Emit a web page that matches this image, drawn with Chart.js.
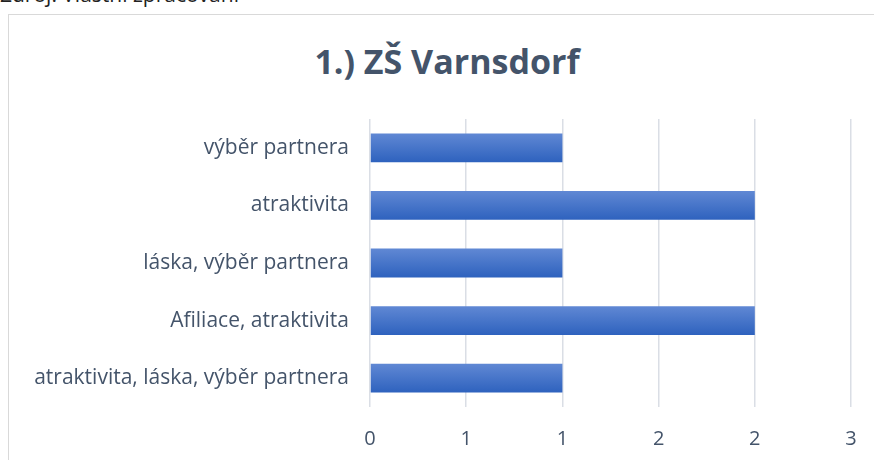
<!DOCTYPE html>
<html>
<head>
<meta charset="utf-8">
<script src="https://cdn.jsdelivr.net/npm/chart.js@4/dist/chart.umd.min.js"></script>
<style>
    html, body { margin: 0; padding: 0; background: #fff; overflow: hidden; }
    .source { position: absolute; left: 0; top: -20px; font: 21px "Open Sans", sans-serif; color: #222; white-space: nowrap; }
    .frame { position: absolute; left: 8px; top: 14px; width: 900px; height: 500px; border: 1px solid #d9d9d9; }
    .chartTitle { position: absolute; left: 0; top: 44px; width: 894px; text-align: center; font: bold 34px/1 "Open Sans", sans-serif; color: #44546A; }
    .chartContainer { position: absolute; left: 0; top: 0; width: 874px; height: 460px; }
</style>
</head>
<body>
<div class="source">Zdroj: Vlastní zpracování</div>
<div class="frame"></div>
<div class="chartTitle" id="title"></div>
<div class="chartContainer"><canvas id="chart"></canvas></div>
<script>
const categories = ["výběr partnera", "atraktivita", "láska, výběr partnera", "Afiliace, atraktivita", "atraktivita, láska, výběr partnera"];
const counts = [1, 2, 1, 2, 1];
const tickLabels = ["0", "1", "1", "2", "2", "3"];
const title = "1.) ZŠ Varnsdorf";

const textColor = "#44546A";

// title sits off-centre in the original, so it is placed as html above the canvas
document.getElementById("title").textContent = title;

const barFill = (ctx) => {
    const chart = ctx.chart;
    const yScale = chart.scales.y;
    if (!yScale || ctx.type !== "data" || !yScale.height) {
        return "#4472C4";
    }
    const center = yScale.getPixelForValue(ctx.dataIndex);
    const half = (yScale.height / categories.length) * 0.5 / 2;
    if (!isFinite(center) || !isFinite(half)) {
        return "#4472C4";
    }
    const grad = chart.ctx.createLinearGradient(0, center - half, 0, center + half);
    grad.addColorStop(0, "#6088D4");
    grad.addColorStop(1, "#2E62BE");
    return grad;
};

const chartCanvas = document.getElementById("chart").getContext("2d");
new Chart(chartCanvas, {
    type: "bar",
    data: {
        labels: categories,
        datasets: [{
            data: counts,
            backgroundColor: barFill,
            borderWidth: 0,
            barPercentage: 0.5,
            categoryPercentage: 1,
        }],
    },
    options: {
        indexAxis: "y",
        responsive: true,
        maintainAspectRatio: false,
        animation: false,
        layout: {padding: {left: 0, right: 23, top: 119, bottom: 0}},
        plugins: {
            legend: {display: false},
            tooltip: {enabled: false},
            title: {display: false},
        },
        scales: {
            x: {
                min: 0,
                max: 2.5,
                ticks: {
                    stepSize: 0.5,
                    color: textColor,
                    font: {family: "Open Sans", size: 20},
                    padding: 20,
                    callback: (value, index) => tickLabels[index],
                },
                grid: {color: "#dadee5", lineWidth: 1.5, drawTicks: false},
                border: {display: false},
                afterFit: (scale) => {
                    scale.height = 53;
                    scale.paddingLeft = 0;
                    scale.paddingRight = 0;
                },
            },
            y: {
                ticks: {
                    color: textColor,
                    font: {family: "Open Sans", size: 21},
                    padding: 21,
                },
                grid: {display: false, drawTicks: false},
                border: {display: false},
                afterFit: (scale) => { scale.width = 370; },
            },
        },
    },
});
</script>
</body>
</html>
